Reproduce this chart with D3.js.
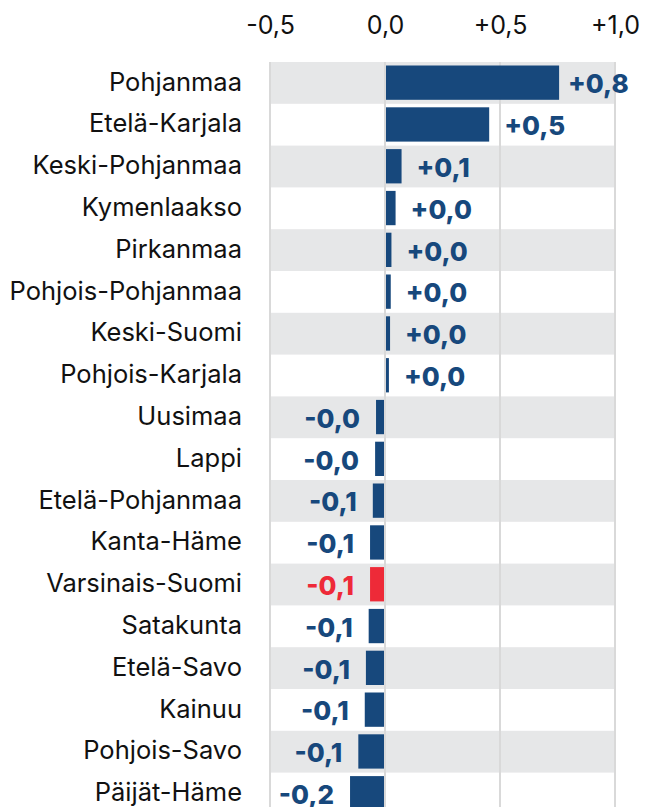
<!DOCTYPE html>
<html><head><meta charset="utf-8">
<script src="https://cdn.jsdelivr.net/npm/d3@7"></script>
<style>body{margin:0;background:#fff}svg{display:block}</style>
</head><body>
<svg id="chart" width="656" height="807"></svg>
<script>
const categories = ["Pohjanmaa","Etelä-Karjala","Keski-Pohjanmaa","Kymenlaakso","Pirkanmaa","Pohjois-Pohjanmaa","Keski-Suomi","Pohjois-Karjala","Uusimaa","Lappi","Etelä-Pohjanmaa","Kanta-Häme","Varsinais-Suomi","Satakunta","Etelä-Savo","Kainuu","Pohjois-Savo","Päijät-Häme"];
const values = [0.757,0.453,0.072,0.046,0.028,0.025,0.022,0.017,-0.039,-0.043,-0.053,-0.065,-0.065,-0.071,-0.083,-0.088,-0.116,-0.152];
const valueLabels = ["+0,8","+0,5","+0,1","+0,0","+0,0","+0,0","+0,0","+0,0","-0,0","-0,0","-0,1","-0,1","-0,1","-0,1","-0,1","-0,1","-0,1","-0,2"];
const highlighted = ["Varsinais-Suomi"];
const tickValues = [-0.5,0,0.5,1.0];
const tickLabels = ["-0,5","0,0","+0,5","+1,0"];

const BLUE="#17487c", RED="#ee2a38", BAND="#e6e7e8", GRID="#d9d9d9";
const FONT="Inter, 'Noto Sans', sans-serif";
const svg=d3.select("#chart");
const x=d3.scaleLinear().domain([-0.5,1.0]).range([270,615]);
const rowH=41.8, plotTop=62;
const y=d3.scaleBand().domain(categories).range([plotTop, plotTop+rowH*categories.length]).padding(0);

// bands
svg.append("g").selectAll("rect").data(categories.filter((c,i)=>i%2===0)).join("rect")
  .attr("x",x(-0.5)).attr("width",x(1.0)-x(-0.5))
  .attr("y",d=>y(d)).attr("height",y.bandwidth()).attr("fill",BAND);

// grid
svg.append("g").selectAll("line").data(tickValues).join("line")
  .attr("x1",d=>x(d)).attr("x2",d=>x(d)).attr("y1",plotTop).attr("y2",807)
  .attr("stroke",GRID).attr("stroke-width",2);

// bars
const data=categories.map((c,i)=>({c,v:values[i],l:valueLabels[i]}));
svg.append("g").selectAll("rect").data(data).join("rect")
  .attr("x",d=>x(Math.min(0,d.v))).attr("width",d=>Math.abs(x(d.v)-x(0)))
  .attr("y",d=>y(d.c)+3.5).attr("height",y.bandwidth()-7.5)
  .attr("fill",d=>highlighted.includes(d.c)?RED:BLUE);

// zero line on top
svg.append("line").attr("x1",x(0)).attr("x2",x(0)).attr("y1",plotTop).attr("y2",807)
  .attr("stroke",GRID).attr("stroke-width",2);

// axis tick labels
const axis=d3.axisTop(x).tickValues(tickValues).tickFormat((d,i)=>tickLabels[i]).tickSize(0).tickPadding(0);
const ag=svg.append("g").attr("transform","translate(0,34)").call(axis);
ag.select(".domain").remove();
ag.selectAll("text").attr("font-family",FONT).attr("font-size",25).attr("fill","#111").attr("dy",0);

// category labels
svg.append("g").selectAll("text").data(categories).join("text")
  .attr("x",242).attr("y",d=>y(d)+y.bandwidth()/2).attr("dy","0.3em")
  .attr("text-anchor","end").attr("font-family",FONT).attr("font-size",25.5).attr("fill","#111")
  .text(d=>d);

// value labels
svg.append("g").selectAll("text").data(data).join("text")
  .attr("x",d=>d.v>=0?Math.min(x(d.v)+15,568):x(d.v)-16)
  .attr("y",d=>y(d.c)+y.bandwidth()/2).attr("dy","0.4em")
  .attr("text-anchor",d=>d.v>=0?"start":"end")
  .attr("font-family",FONT).attr("font-size",26).attr("font-weight",800)
  .attr("fill",d=>highlighted.includes(d.c)?RED:BLUE)
  .text(d=>d.l);
</script>
</body></html>
